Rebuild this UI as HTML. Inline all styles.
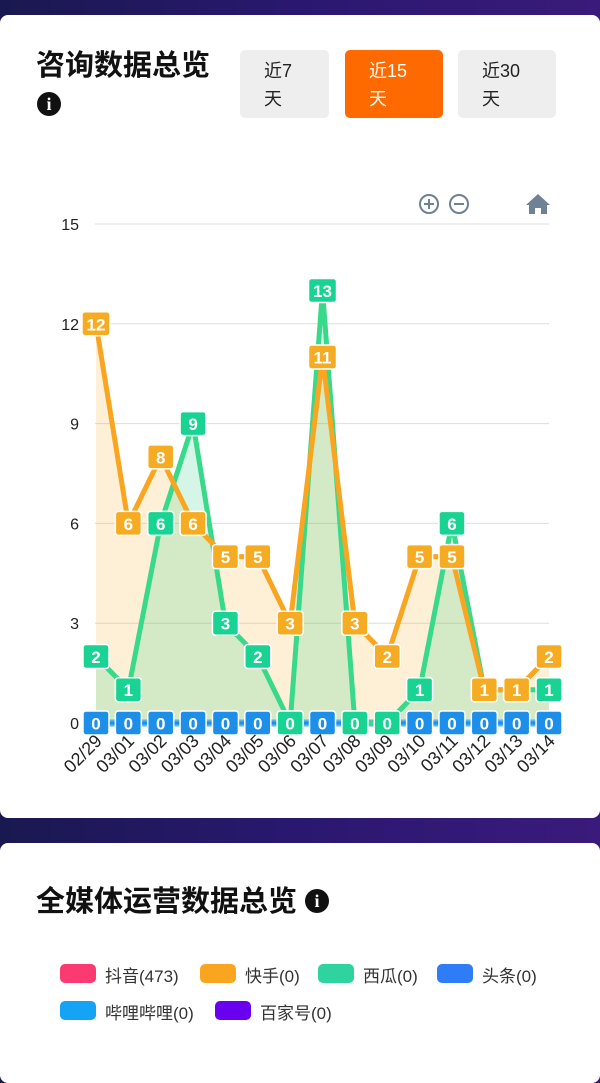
<!DOCTYPE html>
<html><head><meta charset="utf-8"><style>
body{margin:0;width:600px;height:1067px;overflow:hidden;background:linear-gradient(90deg,#1a1850,#2a1870 50%,#3a1a7a);font-family:"Liberation Sans","Noto Sans CJK SC",sans-serif;position:relative}
.card{position:absolute;left:0;width:600px;background:#fff;border-radius:8px}
.t{position:absolute;font-weight:bold;font-size:29px;color:#111}
.btn{position:absolute;top:50px;height:68px;border-radius:5px;background:#eee;font-size:18px;line-height:28px;padding:7px 0 0 24px;box-sizing:border-box;color:#222}
.lg{position:absolute;font-size:17px;color:#333}
.sw{position:absolute;width:36px;height:19px;border-radius:5px}
.i{display:inline-block;width:24px;height:24px;border-radius:50%;background:#111;color:#fff;font:bold 18px/24px "Liberation Serif",serif;text-align:center;vertical-align:middle}
</style></head><body>
<div class="card" style="top:15px;height:803px"></div>
<div class="card" style="top:843px;height:240px"></div>
<div class="t" style="left:36px;top:42px">咨询数据总览</div>
<div style="position:absolute;left:37px;top:92px"><span class="i">i</span></div>
<div class="btn" style="left:240px;width:89px">近7<br>天</div>
<div class="btn" style="left:345px;width:98px;background:#ff6a00;color:#fff">近15<br>天</div>
<div class="btn" style="left:458px;width:98px">近30<br>天</div>
<div class="t" style="left:36px;top:878px">全媒体运营数据总览 <span class="i" style="margin-top:-4px">i</span></div>
<div class="sw" style="left:60px;top:964px;background:#fb3a72"></div><div class="lg" style="left:105px;top:962px">抖音(473)</div>
<div class="sw" style="left:200px;top:964px;background:#f9a51f"></div><div class="lg" style="left:245px;top:962px">快手(0)</div>
<div class="sw" style="left:318px;top:964px;background:#2ed39f"></div><div class="lg" style="left:363px;top:962px">西瓜(0)</div>
<div class="sw" style="left:437px;top:964px;background:#2e7cf6"></div><div class="lg" style="left:482px;top:962px">头条(0)</div>
<div class="sw" style="left:60px;top:1001px;background:#14a3f5"></div><div class="lg" style="left:105px;top:999px">哔哩哔哩(0)</div>
<div class="sw" style="left:215px;top:1001px;background:#6a00f0"></div><div class="lg" style="left:260px;top:999px">百家号(0)</div>
<svg id="c" width="600" height="820" style="position:absolute;left:0;top:0" font-family="Liberation Sans, sans-serif">
<g fill="none" stroke="#6e8195" stroke-width="2"><circle cx="429" cy="204" r="9"/><path d="M424 204h10M429 199v10"/><circle cx="459" cy="204" r="9"/><path d="M454 204h10"/></g>
<path d="M538 194l12 11h-3v9h-6v-6h-6v6h-6v-9h-3z" fill="#6e8195"/>
</svg>
<script>
var s=document.getElementById('c'),h='';
function X(i){return 96+32.36*i}function Y(v){return 723-33.27*v}
[0,3,6,9,12,15].forEach(function(v){h+='<line x1="95" x2="549" y1="'+Y(v)+'" y2="'+Y(v)+'" stroke="#ddd"/><text x="79" y="'+(Y(v)+6)+'" font-size="16" text-anchor="end" fill="#222">'+v+'</text>'});
var O=[12,6,8,6,5,5,3,11,3,2,5,5,1,1,2],G=[2,1,6,9,3,2,0,13,0,0,1,6,1,1,1],B=O.map(function(){return 0});
function pts(a){return a.map(function(v,i){return X(i)+','+Y(v)}).join(' ')}
h+='<polygon points="'+X(0)+','+Y(0)+' '+pts(O)+' '+X(14)+','+Y(0)+'" fill="rgba(249,165,31,0.18)"/>';
h+='<polygon points="'+X(0)+','+Y(0)+' '+pts(G)+' '+X(14)+','+Y(0)+'" fill="rgba(46,211,130,0.2)"/>';
h+='<polyline points="'+pts(B)+'" fill="none" stroke="#5ab3ea" stroke-width="7"/>';
h+='<polyline points="'+pts(B)+'" fill="none" stroke="#1e8fe8" stroke-width="3"/>';
h+='<polyline points="'+pts(G)+'" fill="none" stroke="#38d98a" stroke-width="5"/>';
h+='<polyline points="'+pts(O)+'" fill="none" stroke="#f9a51f" stroke-width="5"/>';
function lab(a,c){a.forEach(function(v,i){var w=v>9?28:26;h+='<rect x="'+(X(i)-w/2)+'" y="'+(Y(v)-12)+'" width="'+w+'" height="24" rx="3" fill="'+c+'" stroke="#fff" stroke-width="1.5"/><text x="'+X(i)+'" y="'+(Y(v)+6.5)+'" font-size="17" font-weight="bold" fill="#fff" text-anchor="middle">'+v+'</text>'})}
lab(B,'#1e8fe8');lab(G,'#19d393');lab(O,'#f5ac22');
for(var i=0;i<15;i++){var d=i==0?'02/29':'03/'+('0'+i).slice(-2);h+='<text transform="translate('+(X(i)+7)+',742) rotate(-45)" font-size="18" text-anchor="end" fill="#222">'+d+'</text>'}
s.insertAdjacentHTML('beforeend',h);
</script>
</body></html>
